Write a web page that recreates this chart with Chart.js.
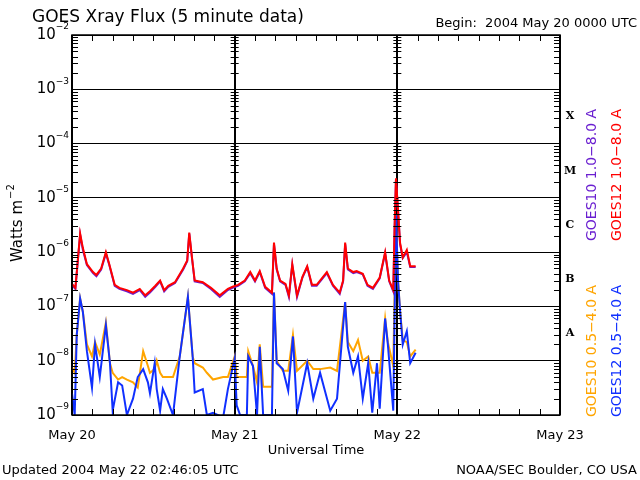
<!DOCTYPE html>
<html>
<head>
<meta charset="utf-8">
<script src="https://cdn.jsdelivr.net/npm/chart.js@4"></script>
<style>
  body { margin: 0; background: #fff; }
  #wrap { width: 640px; height: 480px; position: relative; }
</style>
</head>
<body>
<div id="wrap"><canvas id="xray"></canvas></div>
<script>
// Hours since 2004 May 20 0000 UTC, flux in W m^-2
const dayLabels = ["May 20", "May 21", "May 22", "May 23"];
const classLabels = ["A", "B", "C", "M", "X"];

const longTimes = [0, 0.5, 1.2, 1.6, 2.2, 3.1, 3.6, 4.3, 5.0, 5.5, 6.3, 7.0, 8.1, 9.0, 10.0, 10.8, 11.5, 12.3, 13.0, 13.6, 14.2, 15.2, 16.4, 17.0, 17.3, 17.7, 18.1, 19.3, 20.5, 21.8, 23.0, 23.7, 24.5, 25.5, 26.3, 27.0, 27.7, 28.5, 29.5, 29.8, 30.2, 30.7, 31.5, 32.0, 32.5, 33.2, 34.0, 34.7, 35.4, 36.1, 37.6, 38.5, 39.5, 40.0, 40.3, 40.7, 41.5, 42.0, 42.9, 43.6, 44.4, 45.4, 46.2, 46.8, 47.4, 47.6, 47.8, 48.1, 48.4, 48.8, 49.4, 49.9, 50.7];
const goes12Long = [2.6e-7, 2.2e-7, 2.2e-6, 1.2e-6, 6e-7, 4.3e-7, 3.8e-7, 5e-7, 1e-6, 6e-7, 2.5e-7, 2.2e-7, 2e-7, 1.8e-7, 2.1e-7, 1.6e-7, 1.9e-7, 2.4e-7, 3e-7, 2e-7, 2.4e-7, 2.8e-7, 5e-7, 7e-7, 2.3e-6, 8e-7, 3e-7, 2.8e-7, 2.2e-7, 1.6e-7, 2.1e-7, 2.3e-7, 2.5e-7, 3e-7, 4.3e-7, 3e-7, 4.5e-7, 2.3e-7, 1.8e-7, 1.5e-6, 5e-7, 3e-7, 2.6e-7, 1.6e-7, 6e-7, 1.6e-7, 3.5e-7, 5.5e-7, 2.5e-7, 2.5e-7, 4.3e-7, 2.5e-7, 1.8e-7, 3e-7, 1.5e-6, 5e-7, 4.3e-7, 4.5e-7, 4e-7, 2.5e-7, 2.2e-7, 3.4e-7, 1e-6, 3e-7, 2e-7, 3e-6, 2.3e-5, 6e-6, 1.5e-6, 8e-7, 1.1e-6, 5.5e-7, 5.5e-7];
const goes10Long = [2.5e-7, 2.1e-7, 2.1e-6, 1.1e-6, 5.8e-7, 4.1e-7, 3.6e-7, 4.8e-7, 9.5e-7, 5.8e-7, 2.4e-7, 2.1e-7, 1.9e-7, 1.7e-7, 2e-7, 1.5e-7, 1.8e-7, 2.3e-7, 2.9e-7, 1.9e-7, 2.3e-7, 2.7e-7, 4.8e-7, 6.8e-7, 2.2e-6, 7.8e-7, 2.9e-7, 2.7e-7, 2.1e-7, 1.5e-7, 2e-7, 2.2e-7, 2.4e-7, 2.9e-7, 4.1e-7, 2.9e-7, 4.3e-7, 2.2e-7, 1.7e-7, 1.4e-6, 4.8e-7, 2.9e-7, 2.5e-7, 1.5e-7, 5.8e-7, 1.5e-7, 3.4e-7, 5.3e-7, 2.4e-7, 2.4e-7, 4.1e-7, 2.4e-7, 1.7e-7, 2.9e-7, 1.4e-6, 4.8e-7, 4.1e-7, 4.3e-7, 3.9e-7, 2.4e-7, 2.1e-7, 3.3e-7, 9.5e-7, 2.9e-7, 1.9e-7, 2.8e-6, 2.2e-5, 5.8e-6, 1.4e-6, 7.8e-7, 1e-6, 5.3e-7, 5.3e-7];

const shortTimes = [0, 0.4, 0.7, 1.2, 1.6, 2.2, 2.95, 3.4, 4.1, 5.0, 5.6, 6.0, 6.8, 7.4, 8.1, 9.0, 9.7, 10.5, 11.2, 11.5, 12.2, 12.5, 13.0, 13.4, 14.0, 14.9, 15.9, 17.1, 17.8, 18.1, 19.3, 19.9, 20.8, 22.3, 23.0, 24.0, 24.3, 24.8, 25.8, 26.0, 26.7, 27.3, 27.7, 28.2, 29.5, 29.8, 30.2, 31.1, 31.9, 32.6, 33.2, 34.7, 35.6, 36.6, 38.1, 39.1, 40.3, 40.7, 41.5, 42.2, 42.9, 43.7, 44.3, 45.0, 45.4, 46.2, 46.6, 47.4, 47.8, 48.1, 48.4, 48.8, 49.4, 49.9, 50.7];
const goes12Short = [2.5e-9, 1e-9, 3e-8, 1.4e-7, 8e-8, 1.5e-8, 3.2e-9, 2e-8, 5e-9, 4.5e-8, 9e-9, 1.2e-9, 4e-9, 3.5e-9, 1e-9, 2e-9, 5e-9, 7e-9, 4e-9, 2.5e-9, 9e-9, 3e-9, 1.2e-9, 3e-9, 2e-9, 1e-9, 1.2e-8, 1.5e-7, 1.2e-8, 2.6e-9, 3e-9, 1e-9, 1.1e-9, 9e-10, 3e-9, 1.1e-8, 1.5e-9, 1e-9, 1e-9, 1.2e-8, 8e-9, 1e-9, 1.8e-8, 1e-9, 1e-9, 1.8e-7, 9e-9, 7e-9, 2.8e-9, 2.8e-8, 1.1e-9, 9e-9, 2e-9, 6e-9, 1.2e-9, 2e-9, 1.2e-7, 1.8e-8, 6e-9, 1.2e-8, 2e-9, 9e-9, 1.1e-9, 9e-9, 1.3e-9, 6e-8, 2e-8, 1.2e-9, 4.8e-6, 3e-7, 8.5e-8, 2e-8, 3.5e-8, 9e-9, 1.4e-8];
const goes10Short = [7.5e-9, 6e-9, 3e-8, 1.4e-7, 8e-8, 2e-8, 1.2e-8, 2.2e-8, 1.3e-8, 5e-8, 9e-9, 6e-9, 4.5e-9, 5e-9, 4.5e-9, 4e-9, 3.2e-9, 1.5e-8, 8e-9, 6e-9, 7e-9, 1e-8, 6e-9, 5e-9, 5e-9, 5e-9, 1.2e-8, 1.5e-7, 1.2e-8, 9e-9, 7.5e-9, 6e-9, 4.5e-9, 5e-9, 5e-9, 1.2e-8, 5e-9, 5e-9, 5e-9, 1.5e-8, 8e-9, 4e-9, 2e-8, 3.3e-9, 3.3e-9, 1.8e-7, 1e-8, 6.5e-9, 6.5e-9, 3e-8, 6.5e-9, 1e-8, 7e-9, 7e-9, 7.5e-9, 6.5e-9, 1.2e-7, 2.2e-8, 1.5e-8, 2.4e-8, 1e-8, 1.2e-8, 6e-9, 6e-9, 6e-9, 6e-8, 2.2e-8, 8e-9, 4.8e-6, 3e-7, 8.5e-8, 2.4e-8, 2.2e-8, 1.2e-8, 1.6e-8];

function pts(times, vals) {
    return times.map((t, i) => ({ x: t, y: vals[i] }));
}

// Draws the frame decorations: decade labels, minor ticks, class letters, texts
const decorations = {
    id: "decorations",
    afterDraw(chart) {
        const ctx = chart.ctx;
        const area = chart.chartArea;
        const xs = chart.scales.x;
        const ys = chart.scales.y;
        ctx.save();
        ctx.strokeStyle = "#000";
        ctx.fillStyle = "#000";
        ctx.lineWidth = 1;

        // y tick marks: left, right and at the day boundaries
        for (let e = -9; e < -2; e++) {
            for (let m = 1; m <= 9; m++) {
                const py = Math.round(ys.getPixelForValue(m * Math.pow(10, e))) + 0.5;
                const len = m === 1 ? 0 : 6;
                const cols = [area.left, area.right, xs.getPixelForValue(24), xs.getPixelForValue(48)];
                ctx.beginPath();
                ctx.moveTo(cols[0], py); ctx.lineTo(cols[0] + len, py);
                ctx.moveTo(cols[1], py); ctx.lineTo(cols[1] - len, py);
                ctx.moveTo(cols[2] - len / 2 - 1, py); ctx.lineTo(cols[2] + len / 2 + 1, py);
                ctx.moveTo(cols[3] - len / 2 - 1, py); ctx.lineTo(cols[3] + len / 2 + 1, py);
                ctx.stroke();
            }
        }
        // x tick marks every 3 hours
        for (let h = 3; h < 72; h += 3) {
            const px = Math.round(xs.getPixelForValue(h)) + 0.5;
            ctx.beginPath();
            ctx.moveTo(px, area.bottom); ctx.lineTo(px, area.bottom - 6);
            ctx.moveTo(px, area.top); ctx.lineTo(px, area.top + 6);
            ctx.stroke();
        }

        // decade labels 10^n
        ctx.textBaseline = "middle";
        for (let e = -9; e <= -2; e++) {
            const py = ys.getPixelForValue(Math.pow(10, e));
            ctx.font = "9px 'DejaVu Sans'";
            ctx.textAlign = "right";
            const sup = String(e).replace("-", "\u2212");
            const sw = ctx.measureText(sup).width;
            ctx.fillText(sup, area.left - 3, py - 8);
            ctx.font = "15px 'DejaVu Sans'";
            ctx.fillText("10", area.left - 3 - sw, py);
        }

        // day labels
        ctx.font = "13px 'DejaVu Sans'";
        ctx.textAlign = "center";
        ctx.textBaseline = "alphabetic";
        dayLabels.forEach((d, i) => ctx.fillText(d, xs.getPixelForValue(i * 24), area.bottom + 24));
        ctx.fillText("Universal Time", (area.left + area.right) / 2, area.bottom + 39);

        // flare class letters
        ctx.font = "bold 11px 'DejaVu Serif'";
        ctx.textBaseline = "middle";
        classLabels.forEach((c, i) => {
            const py = ys.getPixelForValue(Math.pow(10, -7.5 + i));
            ctx.fillText(c, area.right + 10, py);
        });

        // rotated legend texts and y title
        ctx.font = "14px 'DejaVu Sans'";
        ctx.textBaseline = "middle";
        const vtext = (txt, x, y, color, align) => {
            ctx.save();
            ctx.translate(x, y);
            ctx.rotate(-Math.PI / 2);
            ctx.fillStyle = color;
            ctx.textAlign = align;
            ctx.fillText(txt, 0, 0);
            ctx.restore();
        };
        vtext("GOES10 1.0\u22128.0 A", 592, 241, "#6a1fd0", "left");
        vtext("GOES12 1.0\u22128.0 A", 617, 241, "#ff0000", "left");
        vtext("GOES10 0.5\u22124.0 A", 592, 417, "#ffa500", "left");
        vtext("GOES12 0.5\u22124.0 A", 617, 417, "#1030ff", "left");

        ctx.save();
        ctx.translate(18, 225);
        ctx.rotate(-Math.PI / 2);
        ctx.textAlign = "center";
        ctx.font = "15px 'DejaVu Sans'";
        ctx.fillText("Watts m", -6, 0);
        ctx.font = "10px 'DejaVu Sans'";
        ctx.textAlign = "left";
        ctx.fillText("\u22122", 26, -7);
        ctx.restore();

        // header and footer
        ctx.textBaseline = "alphabetic";
        ctx.font = "17px 'DejaVu Sans'";
        ctx.textAlign = "left";
        ctx.fillText("GOES Xray Flux (5 minute data)", 32, 22);
        ctx.font = "13px 'DejaVu Sans'";
        ctx.textAlign = "right";
        ctx.fillText("Begin:  2004 May 20 0000 UTC", 637, 27);
        ctx.textAlign = "left";
        ctx.fillText("Updated 2004 May 22 02:46:05 UTC", 2, 474);
        ctx.textAlign = "right";
        ctx.fillText("NOAA/SEC Boulder, CO USA", 637, 474);

        ctx.lineWidth = 1.5;
        ctx.strokeRect(area.left, area.top, area.right - area.left, area.bottom - area.top);
        ctx.restore();
    }
};

const line = (label, data, color, width) => ({
    label: label, data: data, borderColor: color, borderWidth: width,
    pointRadius: 0, fill: false, tension: 0
});

// dataset 0 is painted on top
new Chart(document.getElementById("xray"), {
    type: "line",
    data: {
        datasets: [
            line("GOES12 1.0-8.0 A", pts(longTimes, goes12Long), "#ff0000", 2),
            line("GOES12 0.5-4.0 A", pts(shortTimes, goes12Short), "#1030ff", 2),
            line("GOES10 1.0-8.0 A", pts(longTimes, goes10Long), "#6a1fd0", 2),
            line("GOES10 0.5-4.0 A", pts(shortTimes, goes10Short), "#ffa500", 2)
        ]
    },
    options: {
        responsive: true,
        maintainAspectRatio: false,
        animation: false,
        layout: { padding: { left: 72, right: 80, top: 35, bottom: 65 } },
        plugins: { legend: { display: false }, tooltip: { enabled: false } },
        scales: {
            x: {
                type: "linear", min: 0, max: 72,
                ticks: { display: false, stepSize: 24 },
                border: { display: false },
                grid: {
                    drawTicks: false, color: "#000", lineWidth: 2,
                    borderDash: [3, 3]
                }
            },
            y: {
                type: "logarithmic", min: 1e-9, max: 1e-2,
                ticks: { display: false },
                border: { display: false },
                grid: {
                    drawTicks: false, lineWidth: 1,
                    color: ctx => {
                        const v = ctx.tick ? ctx.tick.value : 0;
                        const l = Math.log10(v);
                        return Math.abs(l - Math.round(l)) < 1e-6 ? "#000" : "rgba(0,0,0,0)";
                    }
                }
            }
        }
    },
    plugins: [decorations]
});
</script>
</body>
</html>
